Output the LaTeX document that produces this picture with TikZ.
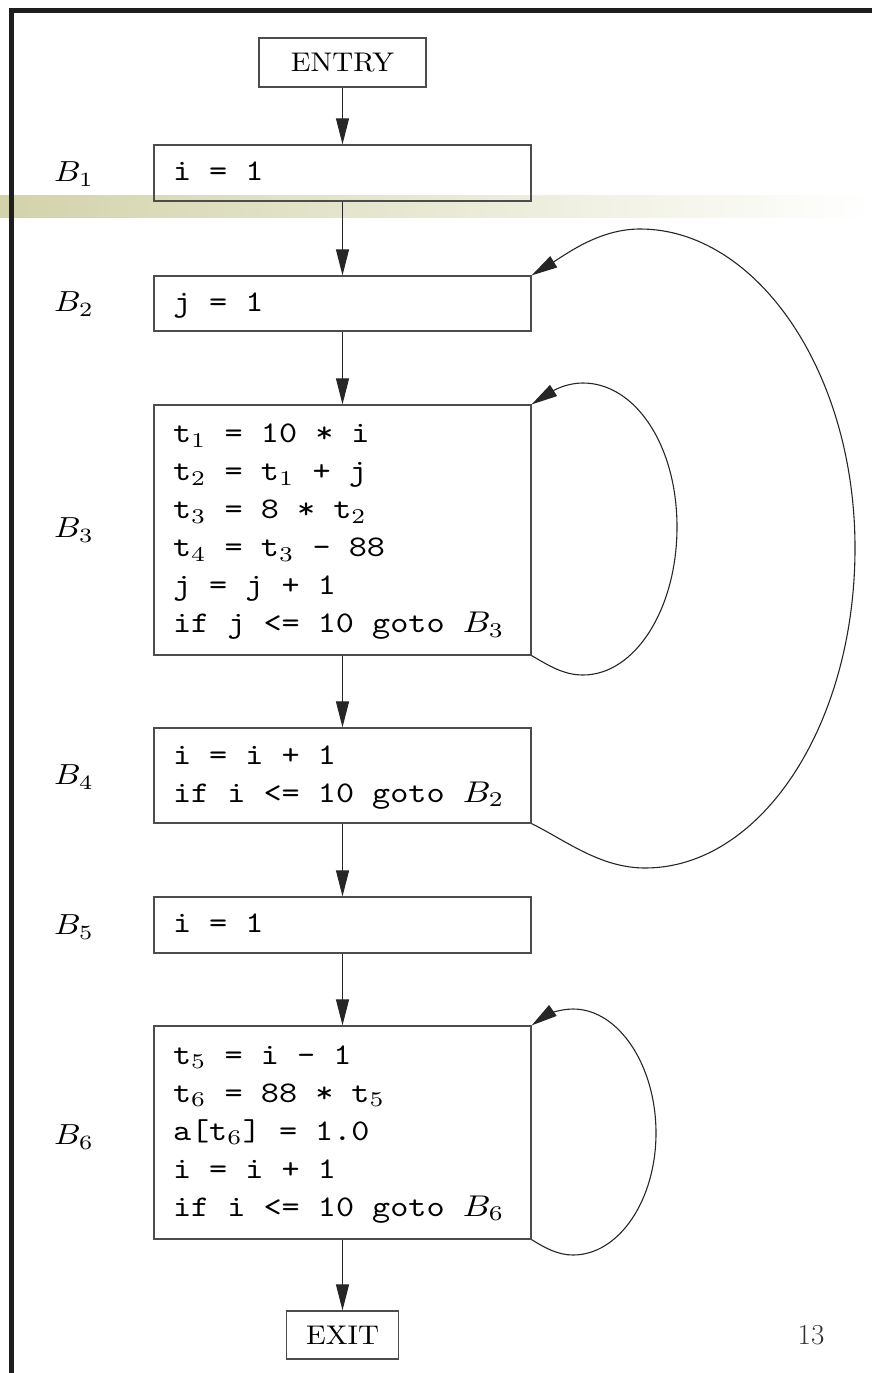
\documentclass[tikz,border=0pt]{standalone}
\usepackage{graphicx}
\usetikzlibrary{arrows.meta}
\definecolor{bandc}{RGB}{210,211,170}
\definecolor{framec}{RGB}{30,30,30}
\newcommand{\ttfix}{\fontsize{10}{12.667}\selectfont\ttfamily}
\newcommand{\ws}{\hspace*{5.25pt}}
\newcommand{\code}[1]{\scalebox{3.45}[3.0]{\ttfix\begin{tabular}{@{}l@{}}#1\end{tabular}}}
\newcommand{\blab}[1]{\scalebox{3.3}[2.9]{\fontsize{10}{12}\selectfont $#1$}}
\newcommand{\rmlab}[1]{\scalebox{2.9}[2.7]{\fontsize{10}{12}\selectfont #1}}
\newcommand{\tv}[2]{t$_{#2}$}
\tikzset{
  blk/.style={draw=black!70, line width=1.2pt, minimum width=377pt, text width=339pt,
    inner xsep=19pt, inner ysep=0pt, align=left},
  term/.style={draw=black!70, line width=1.2pt, inner sep=0pt},
  lab/.style={inner sep=0pt},
  flow/.style={draw=black!85, line width=1.1pt, -{Triangle[length=26pt,width=13pt]}},
}
\begin{document}
\begin{tikzpicture}[x=1pt,y=-1pt]
\useasboundingbox (0,0) rectangle (872,1373);
% slide decoration
\shade[left color=bandc, right color=white] (0,195) rectangle (872,217);
\fill[framec] (9,8) rectangle (872,13);
\fill[framec] (9,8) rectangle (14,1373);

% nodes
\node[term, minimum width=167pt, minimum height=49pt] (entry) at (342.5,62.5) {\rmlab{ENTRY}};
\node[blk, minimum height=56pt]  (B1) at (342.5,173)   {\code{i\ws=\ws1}};
\node[blk, minimum height=55pt]  (B2) at (342.5,303.5) {\code{j\ws=\ws1}};
\node[blk, minimum height=250pt] (B3) at (342.5,530)   {\code{\tv t1\ws=\ws10\ws*\ws i\\
\tv t2\ws=\ws\tv t1\ws+\ws j\\
\tv t3\ws=\ws8\ws*\ws\tv t2\\
\tv t4\ws=\ws\tv t3\ws-\ws88\\
j\ws=\ws j\ws+\ws1\\
if\ws j\ws<=\ws10\ws goto\ws$B_3$}};
\node[blk, minimum height=95pt]  (B4) at (342.5,775.5) {\code{i\ws=\ws i\ws+\ws1\\
if\ws i\ws<=\ws10\ws goto\ws$B_2$}};
\node[blk, minimum height=56pt]  (B5) at (342.5,925)   {\code{i\ws=\ws1}};
\node[blk, minimum height=213pt] (B6) at (342.5,1132.5) {\code{\tv t5\ws=\ws i\ws-\ws1\\
\tv t6\ws=\ws88\ws*\ws\tv t5\\
a[\tv t6]\ws=\ws1.0\\
i\ws=\ws i\ws+\ws1\\
if\ws i\ws<=\ws10\ws goto\ws$B_6$}};
\node[term, minimum width=112pt, minimum height=48pt] (exit) at (342.5,1335) {\rmlab{EXIT}};

% block labels
\node[lab] (L1) at (74,174)  {\blab{B_1}};
\node[lab] (L2) at (74,304)  {\blab{B_2}};
\node[lab] (L3) at (74,530)  {\blab{B_3}};
\node[lab] (L4) at (74,777)  {\blab{B_4}};
\node[lab] (L5) at (74,927)  {\blab{B_5}};
\node[lab] (L6) at (74,1137) {\blab{B_6}};

% page number
\node[font=\fontsize{29}{32}\selectfont, text=black!80] (pg) at (811,1335) {13};

% straight flow
\draw[flow] (entry.south) -- (B1.north);
\draw[flow] (B1.south) -- (B2.north);
\draw[flow] (B2.south) -- (B3.north);
\draw[flow] (B3.south) -- (B4.north);
\draw[flow] (B4.south) -- (B5.north);
\draw[flow] (B5.south) -- (B6.north);
\draw[flow] (B6.south) -- (exit.north);

% loops
\draw[flow] (B3.south east) .. controls (548,665) and (563,675) .. (583,675)
  .. controls (635,675) and (677,609) .. (677,527)
  .. controls (677,445) and (635,383) .. (583,383)
  .. controls (563,383) and (548,394) .. (B3.north east);
\draw[flow] (B4.south east) .. controls (565,840) and (600,868) .. (645,868)
  .. controls (761,868) and (855,725) .. (855,548)
  .. controls (855,371) and (756,229) .. (640,229)
  .. controls (600,229) and (568,253) .. (B2.north east);
\draw[flow] (B6.south east) .. controls (545,1248) and (558,1255) .. (573,1255)
  .. controls (619,1255) and (656,1200) .. (656,1133)
  .. controls (656,1066) and (619,1009) .. (573,1009)
  .. controls (558,1009) and (545,1016) .. (B6.north east);
\end{tikzpicture}
\end{document}
